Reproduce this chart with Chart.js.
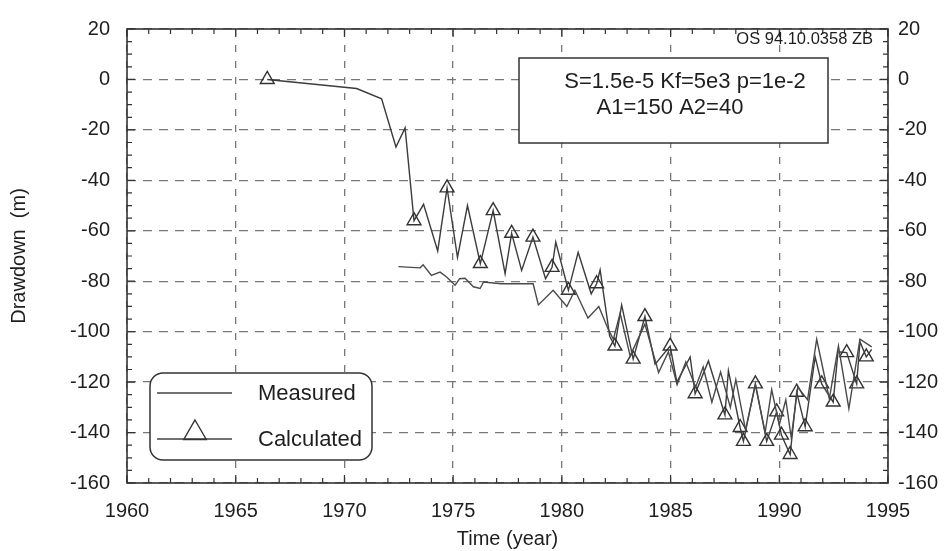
<!DOCTYPE html>
<html>
<head>
<meta charset="utf-8">
<script src="https://cdn.jsdelivr.net/npm/chart.js@4.4.0/dist/chart.umd.min.js"></script>
<style>
html, body { margin: 0; padding: 0; background: #fff; }
#wrap { width: 948px; height: 551px; position: relative; }
</style>
</head>
<body>
<div id="wrap"><canvas id="myChart"></canvas></div>
<script>
// calculated drawdown (line with triangle markers)
const calcYears = [1966.45, 1970.56, 1971.71, 1972.37, 1972.79, 1973.2, 1973.64, 1974.29, 1974.72, 1975.2,
    1975.66, 1976.25, 1976.84, 1977.39, 1977.69, 1978.15, 1978.67, 1979.25, 1979.55, 1979.72,
    1980.3, 1980.75, 1981.35, 1981.6, 1981.76, 1982.2, 1982.44, 1982.75, 1983.28, 1983.82,
    1984.29, 1984.98, 1985.29, 1985.9, 1986.13, 1986.74, 1987.5, 1987.66, 1988.2, 1988.35,
    1988.9, 1989.42, 1989.88, 1990.1, 1990.5, 1990.8, 1991.19, 1991.65, 1991.95, 1992.48,
    1992.7, 1993.1, 1993.56, 1993.71, 1994.0, 1994.25];
const calcValues = [0, -3.6, -7.7, -26.8, -19.2, -56, -49.5, -68, -43, -70.5,
    -50, -73, -52, -77, -61, -75.7, -62.5, -79, -74.5, -64.5,
    -83.6, -68.5, -85, -81, -75.5, -101.8, -105.7, -89.4, -110.9, -94,
    -112.9, -105.7, -120, -110, -124.6, -111.6, -133, -115.5, -138, -143.5,
    -120.7, -143.5, -131.8, -141, -148.7, -124, -137.7, -110, -120.7, -127.9,
    -108, -108.3, -120.7, -104, -110, -107];
// years on the calculated line that carry a triangle
const calcMarkerYears = [1966.45, 1973.2, 1974.72, 1976.25, 1976.84, 1977.69, 1978.67, 1979.55, 1980.3, 1981.6,
    1982.44, 1983.28, 1983.82, 1984.98, 1986.13, 1987.5, 1988.2, 1988.35, 1988.9, 1989.42,
    1989.88, 1990.1, 1990.5, 1990.8, 1991.19, 1991.95, 1992.48, 1993.1, 1993.56, 1994.0];

// measured drawdown (plain line)
const measYears = [1972.48, 1973.48, 1973.62, 1974.0, 1974.4, 1974.7, 1975.09, 1975.3, 1975.55, 1975.93,
    1976.24, 1976.4, 1977.2, 1978.68, 1978.92, 1979.6, 1980.23, 1980.6, 1981.2, 1981.7,
    1982.14, 1982.37, 1982.68, 1983.14, 1983.82, 1984.45, 1984.9, 1985.3, 1985.7, 1986.15,
    1986.5, 1986.9, 1987.3, 1987.75, 1988.0, 1988.45, 1988.9, 1989.35, 1989.65, 1990.0,
    1990.3, 1990.55, 1990.85, 1991.3, 1991.72, 1992.3, 1992.72, 1993.2, 1993.71, 1994.25];
const measValues = [-74.2, -74.7, -73.5, -77.7, -76.4, -78.3, -81.6, -79, -78.8, -82.2,
    -82.9, -80.3, -81, -81, -89.4, -83.6, -90, -83.6, -94.6, -90,
    -99.2, -103, -92.7, -109.6, -97, -116.2, -108, -121, -112, -122,
    -114, -128, -116, -130, -119, -139, -121, -140, -123, -137,
    -127, -142, -122, -127, -103, -126.6, -105.7, -130.5, -103, -106];

const xTicks = [1960, 1965, 1970, 1975, 1980, 1985, 1990, 1995];
const yTicks = [20, 0, -20, -40, -60, -80, -100, -120, -140, -160];

const noteLines = ['S=1.5e-5 Kf=5e3 p=1e-2', 'A1=150 A2=40'];
const stampText = 'OS 94.10.0358 ZB';
const seriesNames = ['Measured', 'Calculated'];

const FONT = '"Liberation Sans", Arial, sans-serif';
const INK = '#1e1e1e';

function triangle(ctx, x, y, r) {
    ctx.beginPath();
    ctx.moveTo(x, y - r);
    ctx.lineTo(x + r * 0.866, y + r / 2);
    ctx.lineTo(x - r * 0.866, y + r / 2);
    ctx.closePath();
    ctx.stroke();
}

// frame, inner ticks on all sides, note box and legend box
const extrasPlugin = {
    id: 'extras',
    afterDatasetsDraw(chart) {
        const { ctx, chartArea: a, scales: { x, y } } = chart;
        ctx.save();
        ctx.setLineDash([]);
        ctx.strokeStyle = '#333';
        ctx.lineWidth = 1.6;
        ctx.strokeRect(a.left, a.top, a.width, a.height);

        ctx.lineWidth = 1.2;
        ctx.beginPath();
        for (let v = 1960; v <= 1995; v++) {
            const px = x.getPixelForValue(v);
            const len = v % 5 === 0 ? 8 : 5;
            ctx.moveTo(px, a.bottom); ctx.lineTo(px, a.bottom - len);
            ctx.moveTo(px, a.top); ctx.lineTo(px, a.top + len);
        }
        for (let v = -160; v <= 20; v += 5) {
            const py = y.getPixelForValue(v);
            const len = v % 20 === 0 ? 8 : 5;
            ctx.moveTo(a.left, py); ctx.lineTo(a.left + len, py);
            ctx.moveTo(a.right, py); ctx.lineTo(a.right - len, py);
        }
        ctx.stroke();

        // stamp top right
        ctx.fillStyle = INK;
        ctx.font = '16.5px ' + FONT;
        ctx.textAlign = 'right';
        ctx.textBaseline = 'middle';
        ctx.fillText(stampText, a.right - 15, a.top + 10);

        // parameter box
        ctx.fillStyle = '#fff';
        ctx.fillRect(519, 58, 309, 85);
        ctx.strokeStyle = '#333';
        ctx.lineWidth = 1.5;
        ctx.strokeRect(519, 58, 309, 85);
        ctx.fillStyle = INK;
        ctx.font = '22px ' + FONT;
        ctx.textAlign = 'center';
        ctx.fillText(noteLines[0], 685, 82);
        ctx.fillText(noteLines[1], 670, 108);

        // legend box
        const lx = 150, ly = 373, lw = 222, lh = 87;
        ctx.beginPath();
        ctx.roundRect(lx, ly, lw, lh, 13);
        ctx.fillStyle = '#fff';
        ctx.fill();
        ctx.stroke();
        ctx.strokeStyle = '#444';
        ctx.lineWidth = 1.4;
        ctx.beginPath();
        ctx.moveTo(157, 393); ctx.lineTo(232, 393);
        ctx.moveTo(157, 439); ctx.lineTo(232, 439);
        ctx.stroke();
        ctx.strokeStyle = '#333';
        triangle(ctx, 195, 433, 13);
        ctx.fillStyle = INK;
        ctx.font = '22px ' + FONT;
        ctx.textAlign = 'left';
        ctx.fillText(seriesNames[0], 258, 394);
        ctx.fillText(seriesNames[1], 258, 440);
        ctx.restore();
    }
};

const tickFont = { family: FONT, size: 20 };
const plain = v => String(v);

const ctx = document.getElementById('myChart').getContext('2d');
const myChart = new Chart(ctx, {
    type: 'line',
    data: {
        datasets: [{
            label: seriesNames[0],
            data: measYears.map((yr, i) => ({ x: yr, y: measValues[i] })),
            borderColor: '#4a4a4a',
            borderWidth: 1.4,
            pointRadius: 0,
            tension: 0
        }, {
            label: seriesNames[1],
            data: calcYears.map((yr, i) => ({ x: yr, y: calcValues[i] })),
            borderColor: '#3c3c3c',
            borderWidth: 1.4,
            tension: 0,
            pointStyle: 'triangle',
            pointRadius: c => calcMarkerYears.includes(calcYears[c.dataIndex]) ? 8 : 0,
            pointBorderColor: '#333',
            pointBackgroundColor: 'rgba(255,255,255,0)',
            pointBorderWidth: 1.4
        }]
    },
    options: {
        responsive: true,
        maintainAspectRatio: false,
        animation: false,
        layout: { padding: { top: 22, left: 0, right: 0, bottom: 0 } },
        plugins: {
            legend: { display: false },
            tooltip: { enabled: false }
        },
        scales: {
            x: {
                type: 'linear',
                min: 1960,
                max: 1995,
                afterBuildTicks: s => { s.ticks = xTicks.map(v => ({ value: v })); },
                afterFit: s => { s.height = 68; },
                grid: { color: '#777', lineWidth: 1.3, drawTicks: false },
                border: { display: false, dash: [7, 9] },
                ticks: { padding: 16, color: INK, font: tickFont, maxRotation: 0, autoSkip: false, callback: plain },
                title: { display: true, text: 'Time (year)', color: INK, font: tickFont, padding: { top: 0, bottom: 0 } }
            },
            y: {
                position: 'left',
                min: -160,
                max: 20,
                afterBuildTicks: s => { s.ticks = yTicks.map(v => ({ value: v })); },
                afterFit: s => { s.width = 127; },
                grid: { color: '#777', lineWidth: 1.3, drawTicks: false },
                border: { display: false, dash: [9, 7] },
                ticks: { padding: 17, color: INK, font: tickFont, callback: plain },
                title: { display: true, text: 'Drawdown  (m)', color: INK, font: tickFont, padding: { top: 7, bottom: 0 } }
            },
            y2: {
                position: 'right',
                min: -160,
                max: 20,
                afterBuildTicks: s => { s.ticks = yTicks.map(v => ({ value: v })); },
                afterFit: s => { s.width = 60; },
                grid: { display: false, drawTicks: false },
                border: { display: false },
                ticks: { padding: 10, color: INK, font: tickFont, callback: plain }
            }
        }
    },
    plugins: [extrasPlugin]
});
</script>
</body>
</html>
